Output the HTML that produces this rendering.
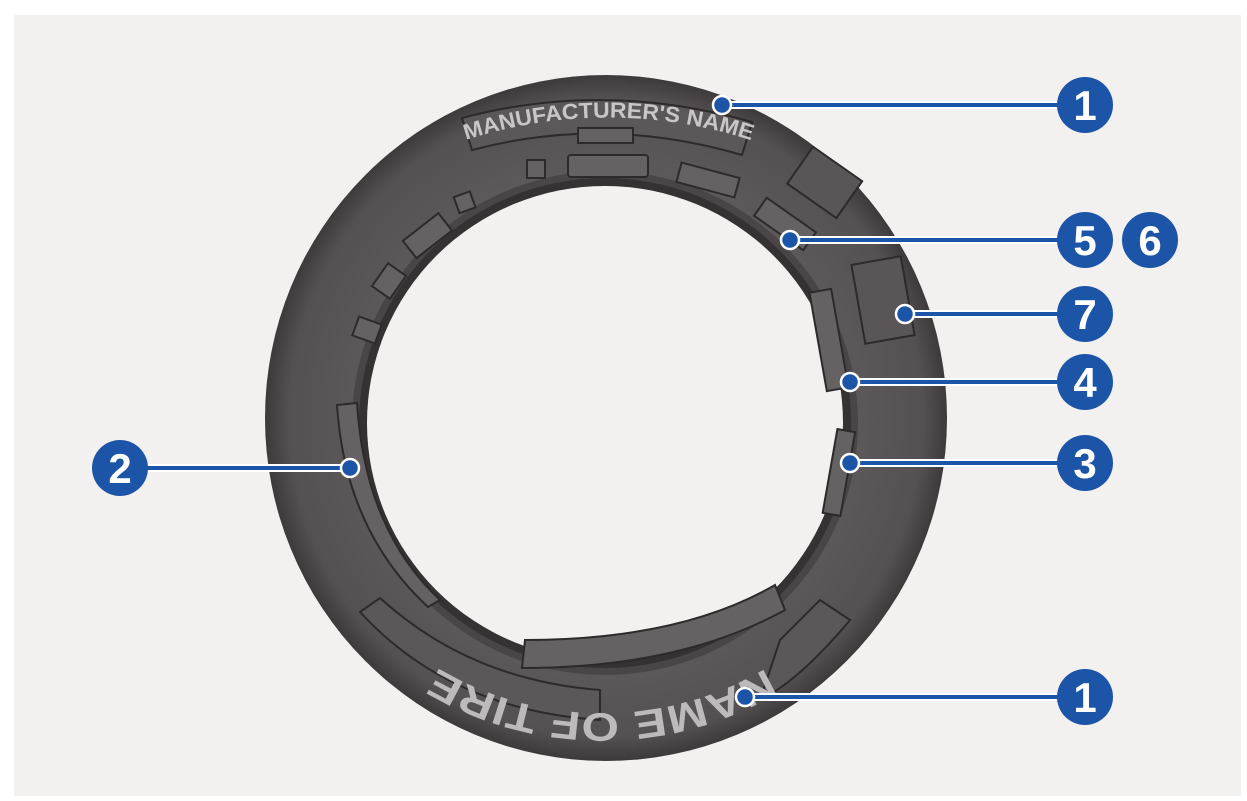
<!DOCTYPE html>
<html><head><meta charset="utf-8"><style>
html,body{margin:0;padding:0;background:#fff;}
svg{display:block}
</style></head><body>
<svg width="1247" height="801" viewBox="0 0 1247 801" xmlns="http://www.w3.org/2000/svg">
<rect x="14" y="15" width="1227" height="781" fill="#f3f0f0"/>
<defs>
<radialGradient id="tg" cx="0.5" cy="0.5" r="0.5">
<stop offset="0.7" stop-color="#5e5a5c"/>
<stop offset="0.93" stop-color="#555153"/>
<stop offset="1" stop-color="#3e3a3c"/>
</radialGradient>
<path id="topArc" d="M 466 140 A 460 460 0 0 1 750 140"/>
<path id="botArc" d="M 766 668 A 320 320 0 0 1 438 668"/>
</defs>
<ellipse cx="606" cy="418" rx="341" ry="343" fill="url(#tg)"/>
<ellipse cx="605" cy="423" rx="253" ry="252" fill="#4a4648"/>
<ellipse cx="605" cy="423" rx="246" ry="245" fill="#363133"/>
<ellipse cx="605" cy="423" rx="238" ry="237" fill="#f3f0f0"/>
<g fill="#666163" stroke="#2e2a2c" stroke-width="2">
<path d="M 462 118 Q 605 80 752 122 L 742 155 Q 605 115 472 150 Z" fill="#5c5759"/>
<rect x="578" y="128" width="55" height="15"/>
<rect x="568" y="155" width="80" height="22" rx="3"/>
<rect x="527" y="160" width="18" height="18"/>
<rect x="678" y="170" width="60" height="20" transform="rotate(15 708 180)"/>
<rect x="456" y="194" width="17" height="17" transform="rotate(-20 464 202)"/>
<rect x="405" y="225" width="45" height="22" transform="rotate(-38 427 236)"/>
<rect x="375" y="270" width="28" height="22" transform="rotate(-55 389 281)"/>
<rect x="357" y="318" width="20" height="24" transform="rotate(-70 367 330)"/>
<rect x="755" y="213" width="60" height="22" transform="rotate(35 785 224)"/>
<rect x="795" y="160" width="60" height="45" transform="rotate(35 825 182)" fill="#5a5557"/>
<rect x="858" y="260" width="50" height="80" transform="rotate(-10 883 300)" fill="#5a5557"/>
<rect x="818" y="290" width="22" height="100" transform="rotate(-10 829 340)"/>
<rect x="830" y="430" width="18" height="85" transform="rotate(10 839 472)"/>
<path d="M 337 405 L 357 403 Q 365 530 440 600 L 428 607 Q 345 530 337 405 Z"/>
<path d="M 525 640 Q 680 640 775 585 L 785 610 Q 680 668 522 668 Z"/>
<path d="M 360 612 L 380 598 Q 470 680 600 690 L 600 720 Q 450 710 360 612 Z" fill="#5c5759"/>
<path d="M 780 640 L 820 600 L 850 620 Q 800 680 760 700 Z" fill="#5c5759"/>
</g>
<text font-family="Liberation Sans, sans-serif" font-weight="bold" font-size="22" fill="#c9c6c7"><textPath href="#topArc" textLength="290" lengthAdjust="spacingAndGlyphs">MANUFACTURER'S NAME</textPath></text>
<text font-family="Liberation Sans, sans-serif" font-weight="bold" font-size="40" fill="#bdbabb"><textPath href="#botArc" textLength="345" lengthAdjust="spacingAndGlyphs">NAME OF TIRE</textPath></text>
<g stroke="#fff" stroke-width="8" fill="none">
<line x1="722" y1="105" x2="1070" y2="105"/>
<line x1="790" y1="240" x2="1070" y2="240"/>
<line x1="905" y1="314" x2="1070" y2="314"/>
<line x1="850" y1="382" x2="1070" y2="382"/>
<line x1="850" y1="463" x2="1070" y2="463"/>
<line x1="130" y1="468" x2="350" y2="468"/>
<line x1="745" y1="697" x2="1070" y2="697"/>
</g>
<g stroke="#1c55a8" stroke-width="4" fill="none">
<line x1="722" y1="105" x2="1070" y2="105"/>
<line x1="790" y1="240" x2="1070" y2="240"/>
<line x1="905" y1="314" x2="1070" y2="314"/>
<line x1="850" y1="382" x2="1070" y2="382"/>
<line x1="850" y1="463" x2="1070" y2="463"/>
<line x1="130" y1="468" x2="350" y2="468"/>
<line x1="745" y1="697" x2="1070" y2="697"/>
</g>
<g fill="#1c55a8" stroke="#fff" stroke-width="2.5">
<circle cx="722" cy="105" r="9"/>
<circle cx="790" cy="240" r="9"/>
<circle cx="905" cy="314" r="9"/>
<circle cx="850" cy="382" r="9"/>
<circle cx="850" cy="463" r="9"/>
<circle cx="350" cy="468" r="9"/>
<circle cx="745" cy="697" r="9"/>
</g>
<g fill="#1c55a8">
<circle cx="1085" cy="105" r="28"/>
<circle cx="1085" cy="240" r="28"/>
<circle cx="1150" cy="240" r="28"/>
<circle cx="1085" cy="314" r="28"/>
<circle cx="1085" cy="382" r="28"/>
<circle cx="1085" cy="463" r="28"/>
<circle cx="120" cy="468" r="28"/>
<circle cx="1085" cy="697" r="28"/>
</g>
<g fill="#fff" font-family="Liberation Sans, sans-serif" font-weight="bold" font-size="42" text-anchor="middle">
<text x="1085" y="120">1</text>
<text x="1085" y="255">5</text>
<text x="1150" y="255">6</text>
<text x="1085" y="329">7</text>
<text x="1085" y="397">4</text>
<text x="1085" y="478">3</text>
<text x="120" y="483">2</text>
<text x="1085" y="712">1</text>
</g>
</svg>
</body></html>
